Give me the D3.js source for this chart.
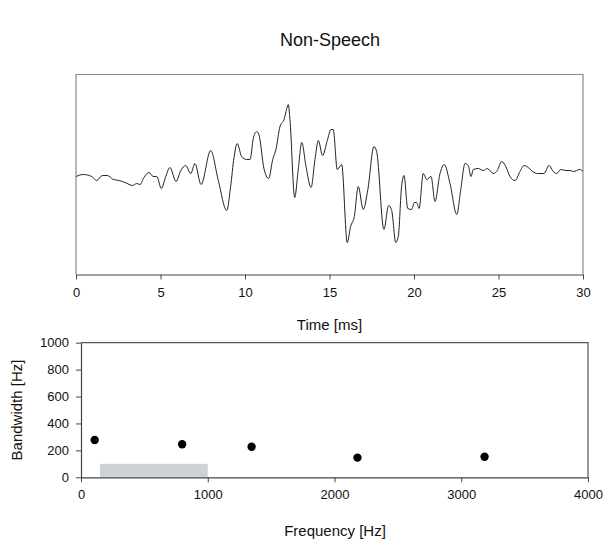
<!DOCTYPE html>
<html>
<head>
<meta charset="utf-8">
<script src="https://cdn.jsdelivr.net/npm/d3@7"></script>
<style>
  body { margin: 0; background: #fff; }
  text { font-family: "Liberation Sans", Arial, sans-serif; fill: #111; }
</style>
</head>
<body>
<div id="chart"></div>
<script>
var width = 605;
var height = 544;

// waveform samples (time in ms, amplitude in arbitrary units)
var waveTime = [0, 0.43, 0.93, 1.22, 1.56, 1.85, 2.21, 2.56, 2.9, 3.36, 3.59, 3.79, 4.02, 4.32, 4.57, 4.78,
  5.05, 5.31, 5.56, 5.92, 6.2, 6.49, 6.79, 7.04, 7.4, 7.97, 8.42, 8.92, 9.15, 9.35, 9.54, 9.8,
  10.1, 10.3, 10.49, 10.69, 10.85, 11.12, 11.4, 11.64, 11.83, 12.07, 12.31, 12.43, 12.56, 12.66, 12.94,
  13.15, 13.36, 13.61, 13.91, 14.14, 14.34, 14.59, 14.87, 15.09, 15.22, 15.46, 15.72, 16.05, 16.25,
  16.47, 16.7, 17.0, 17.26, 17.63, 17.79, 18.22, 18.5, 18.68, 18.92, 19.07, 19.27, 19.41, 19.63,
  19.86, 20.02, 20.16, 20.3, 20.55, 20.75, 21.01, 21.24, 21.54, 21.79, 22.13, 22.53, 22.76, 23.02,
  23.21, 23.37, 23.51, 23.8, 24.1, 24.34, 24.69, 24.93, 25.19, 25.43, 25.68, 25.98, 26.27, 26.51,
  26.76, 27.02, 27.3, 27.69, 27.99, 28.24, 28.44, 28.68, 28.99, 29.23, 29.43, 29.82, 30];
var waveAmp = [-0.02, 0.0, -0.02, -0.06, -0.01, -0.01, -0.05, -0.06, -0.08, -0.11, -0.09, -0.1, -0.03, 0.02, -0.02, -0.02,
  -0.14, -0.02, 0.07, -0.07, 0.04, 0.09, 0.01, 0.11, -0.1, 0.24, -0.06, -0.36, -0.12, 0.17, 0.31, 0.18,
  0.15, 0.15, 0.36, 0.43, 0.38, 0.06, -0.04, 0.15, 0.25, 0.48, 0.55, 0.63, 0.7, 0.55, -0.23,
  0.05, 0.32, 0.08, -0.13, 0.15, 0.34, 0.19, 0.34, 0.45, 0.45, 0.05, 0.1, -0.68, -0.52,
  -0.42, -0.12, -0.35, -0.16, 0.28, 0.23, -0.55, -0.31, -0.36, -0.68, -0.62, -0.11, -0.01, -0.34,
  -0.35, -0.28, -0.28, -0.34, 0.01, -0.05, -0.02, -0.27, 0.01, 0.1, -0.09, -0.4, -0.16, 0.11,
  0.09, -0.02, 0.05, 0.06, 0.04, 0.06, 0.01, 0.04, 0.13, 0.08, -0.02, -0.06, 0.03, 0.09,
  0.07, 0.03, 0.01, 0.01, 0.09, 0.03, 0.01, 0.05, 0.04, 0.04, 0.03, 0.05, 0.03];
var timeTicks = [0, 5, 10, 15, 20, 25, 30];

// formant frequency vs bandwidth
var formantFreq = [108, 798, 1346, 2181, 3184];
var formantBw = [277, 245, 227, 146, 153];
var bandStart = [150];
var bandEnd = [1000];
var bandTop = [100];
var freqTicks = [0, 1000, 2000, 3000, 4000];
var bwTicks = [0, 200, 400, 600, 800, 1000];

var svg = d3.select("#chart").append("svg")
    .attr("width", width)
    .attr("height", height);

svg.append("text")
    .attr("x", 330)
    .attr("y", 46)
    .attr("text-anchor", "middle")
    .style("font-size", "18px")
    .text("Non-Speech");

// ---- top: waveform ----
var wBox = { left: 76, right: 583, top: 74.5, bottom: 274.5 };

var xT = d3.scaleLinear().domain([0, 30]).range([wBox.left, wBox.right]);
var yT = d3.scaleLinear().domain([-1, 1]).range([wBox.bottom, wBox.top]);

svg.append("path")
    .attr("d", "M" + wBox.left + "," + wBox.bottom + "V" + wBox.top + "H" + wBox.right + "V" + wBox.bottom)
    .attr("fill", "none")
    .attr("stroke", "#8a8a8a")
    .attr("stroke-width", 1.2);

var wave = waveTime.map(function(t, i) { return [t, waveAmp[i]]; });
var line = d3.line()
    .x(function(d) { return xT(d[0]); })
    .y(function(d) { return yT(d[1]); })
    .curve(d3.curveMonotoneX);

svg.append("path")
    .datum(wave)
    .attr("d", line)
    .attr("fill", "none")
    .attr("stroke", "#222")
    .attr("stroke-width", 1);

var axT = svg.append("g")
    .attr("transform", "translate(0," + wBox.bottom + ")")
    .call(d3.axisBottom(xT).tickValues(timeTicks).tickSize(5).tickSizeOuter(0).tickPadding(8).tickFormat(d3.format("d")));
axT.select(".domain").attr("stroke", "#444").attr("stroke-width", 1.2);
axT.selectAll(".tick line").attr("stroke", "#444");
axT.selectAll("text").style("font-size", "13px").attr("fill", "#111");

svg.append("text")
    .attr("x", (wBox.left + wBox.right) / 2)
    .attr("y", 330)
    .attr("text-anchor", "middle")
    .style("font-size", "15px")
    .text("Time [ms]");

// ---- bottom: bandwidth scatter ----
var bBox = { left: 81, right: 588, top: 342.7, bottom: 477.3 };

var xB = d3.scaleLinear().domain([0, 4000]).range([bBox.left, bBox.right]);
var yB = d3.scaleLinear().domain([0, 1000]).range([bBox.bottom, bBox.top]);

svg.append("path")
    .attr("d", "M" + bBox.left + "," + bBox.top + "H" + bBox.right + "V" + bBox.bottom)
    .attr("fill", "none")
    .attr("stroke", "#555")
    .attr("stroke-width", 1.2);

svg.selectAll("rect.band").data(bandStart).enter()
    .append("rect")
    .attr("class", "band")
    .attr("x", function(d) { return xB(d); })
    .attr("width", function(d, i) { return xB(bandEnd[i]) - xB(d); })
    .attr("y", function(d, i) { return yB(bandTop[i]); })
    .attr("height", function(d, i) { return yB(0) - yB(bandTop[i]); })
    .attr("fill", "#cbd3d7");

var axBx = svg.append("g")
    .attr("transform", "translate(0," + bBox.bottom + ")")
    .call(d3.axisBottom(xB).tickValues(freqTicks).tickSize(5).tickSizeOuter(0).tickPadding(7).tickFormat(d3.format("d")));
var axBy = svg.append("g")
    .attr("transform", "translate(" + bBox.left + ",0)")
    .call(d3.axisLeft(yB).tickValues(bwTicks).tickSize(5).tickSizeOuter(0).tickPadding(7).tickFormat(d3.format("d")));
[axBx, axBy].forEach(function(ax) {
  ax.select(".domain").attr("stroke", "#444").attr("stroke-width", 1.2);
  ax.selectAll(".tick line").attr("stroke", "#444");
  ax.selectAll("text").style("font-size", "13px").attr("fill", "#111");
});

svg.selectAll("circle.formant").data(formantFreq).enter()
    .append("circle")
    .attr("class", "formant")
    .attr("cx", function(d) { return xB(d); })
    .attr("cy", function(d, i) { return yB(formantBw[i]); })
    .attr("r", 4.2)
    .attr("fill", "#000");

svg.append("text")
    .attr("x", 335)
    .attr("y", 536)
    .attr("text-anchor", "middle")
    .style("font-size", "15px")
    .text("Frequency [Hz]");

svg.append("text")
    .attr("transform", "translate(22," + ((bBox.top + bBox.bottom) / 2) + ") rotate(-90)")
    .attr("text-anchor", "middle")
    .style("font-size", "15px")
    .text("Bandwidth [Hz]");
</script>
</body>
</html>
